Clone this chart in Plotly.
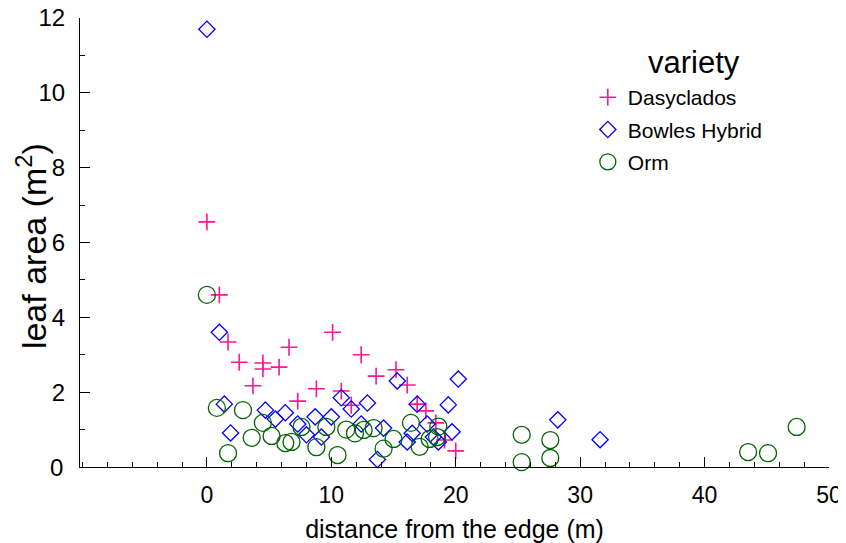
import plotly.graph_objects as go

# Dasyclados
das_x = [0.0, 1.0, 1.7, 2.6, 3.7, 4.5, 4.5, 5.8, 6.6, 7.3, 8.8, 10.1, 10.8, 11.6, 12.4, 13.6, 15.2, 16.1, 16.9, 17.6, 18.4, 19.1, 20.0]
das_y = [6.55, 4.6, 3.34, 2.8, 2.17, 2.78, 2.62, 2.67, 3.2, 1.76, 2.09, 3.6, 2.03, 1.65, 3.0, 2.43, 2.6, 2.19, 1.68, 1.5, 1.18, 0.72, 0.43]

# Bowles Hybrid
bow_x = [0.0, 1.0, 1.4, 1.9, 4.7, 5.5, 6.3, 7.3, 8.0, 8.7, 9.2, 10.0, 10.8, 11.6, 12.4, 12.9, 13.7, 14.2, 15.3, 16.1, 16.5, 16.9, 17.7, 18.2, 18.6, 19.4, 19.7, 20.2, 28.2, 31.6]
bow_y = [11.7, 3.6, 1.68, 0.91, 1.52, 1.28, 1.45, 1.15, 0.86, 1.34, 0.8, 1.34, 1.85, 1.55, 1.15, 1.71, 0.2, 1.04, 2.3, 0.67, 0.9, 1.68, 1.15, 0.8, 0.67, 1.66, 0.94, 2.35, 1.26, 0.73]

# Orm
orm_x = [0.0, 0.8, 1.7, 2.9, 3.6, 4.5, 5.2, 6.3, 6.8, 7.6, 8.8, 9.6, 10.5, 11.2, 11.9, 12.6, 13.4, 14.2, 15.0, 16.4, 17.1, 17.9, 18.5, 18.6, 25.3, 25.3, 27.6, 27.6, 43.5, 45.1, 47.4]
orm_y = [4.6, 1.58, 0.37, 1.52, 0.78, 1.18, 0.83, 0.64, 0.67, 1.07, 0.53, 1.07, 0.32, 1.0, 0.9, 0.99, 1.04, 0.49, 0.75, 1.18, 0.54, 0.75, 0.8, 1.08, 0.86, 0.13, 0.72, 0.24, 0.4, 0.37, 1.07]

x_ticks = [0, 10, 20, 30, 40, 50]
y_ticks = [0, 2, 4, 6, 8, 10, 12]

FONT = "Liberation Sans, Arial, Helvetica, sans-serif"

fig = go.Figure()
fig.add_trace(go.Scatter(
    x=das_x, y=das_y, mode="markers", name="Dasyclados", legendgroup="a",
    marker=dict(symbol="cross-thin-open", size=12, color="#ff1493",
                line=dict(color="#ff1493", width=1.6)),
    cliponaxis=False))
fig.add_trace(go.Scatter(
    x=bow_x, y=bow_y, mode="markers", name="Bowles Hybrid", legendgroup="b",
    marker=dict(symbol="diamond-open", size=12.5, color="#0000ff",
                line=dict(color="#0000ff", width=1.3)),
    cliponaxis=False))
fig.add_trace(go.Scatter(
    x=orm_x, y=orm_y, mode="markers", name="Orm", legendgroup="c",
    marker=dict(symbol="circle-open", size=17, color="#006400",
                line=dict(color="#006400", width=1.3)),
    cliponaxis=False))

fig.update_layout(
    width=846, height=543,
    margin=dict(l=72, r=25, t=10, b=84),
    paper_bgcolor="white", plot_bgcolor="white",
    font=dict(family=FONT, color="black"),
    showlegend=True,
    legend=dict(
        x=0.678, y=0.8685, xanchor="left", yanchor="top",
        font=dict(size=21, family=FONT),
        tracegroupgap=2,
        bgcolor="rgba(0,0,0,0)",
    ),
    annotations=[
        dict(text="leaf area (m<sup>2</sup>)", xref="paper", yref="paper",
             x=0, y=0.492, xanchor="center", yanchor="middle", xshift=-49,
             textangle=-90, showarrow=False, font=dict(size=34, family=FONT)),
        dict(text="variety", xref="paper", yref="paper",
             x=0.8198, y=0.8998, xanchor="center", yanchor="middle",
             showarrow=False, font=dict(size=31, family=FONT)),
        dict(text=str(y_ticks[0]), xref="paper", yref="y",
             x=0, y=y_ticks[0], xanchor="right", yanchor="middle", xshift=-15,
             showarrow=False, font=dict(size=24, family=FONT)),
    ],
)

fig.update_xaxes(
    range=[-10.2, 50], showgrid=False, zeroline=False, automargin=False,
    showline=True, linecolor="black", linewidth=1,
    ticks="inside", ticklen=10, tickcolor="black", tickwidth=1,
    tickmode="array", tickvals=x_ticks, ticktext=[str(v) for v in x_ticks],
    tickfont=dict(size=23, family=FONT),
    ticklabelstandoff=7, ticklabeloverflow="allow",
    minor=dict(tickmode="linear", tick0=0, dtick=2, ticks="inside", ticklen=5,
               tickcolor="black", tickwidth=1, showgrid=False),
    title=dict(text="distance from the edge (m)", font=dict(size=25, family=FONT), standoff=13),
)
fig.update_yaxes(
    range=[0, 12], showgrid=False, zeroline=False, automargin=False,
    showline=True, linecolor="black", linewidth=1,
    ticks="inside", ticklen=10, tickcolor="black", tickwidth=1,
    tickmode="array", tickvals=y_ticks[1:], ticktext=[str(v) for v in y_ticks[1:]],
    tickfont=dict(size=24, family=FONT),
    ticklabelstandoff=9, ticklabeloverflow="allow",
    minor=dict(tickmode="linear", tick0=0, dtick=1, ticks="inside", ticklen=5,
               tickcolor="black", tickwidth=1, showgrid=False),
)

fig.write_html("out.html")
